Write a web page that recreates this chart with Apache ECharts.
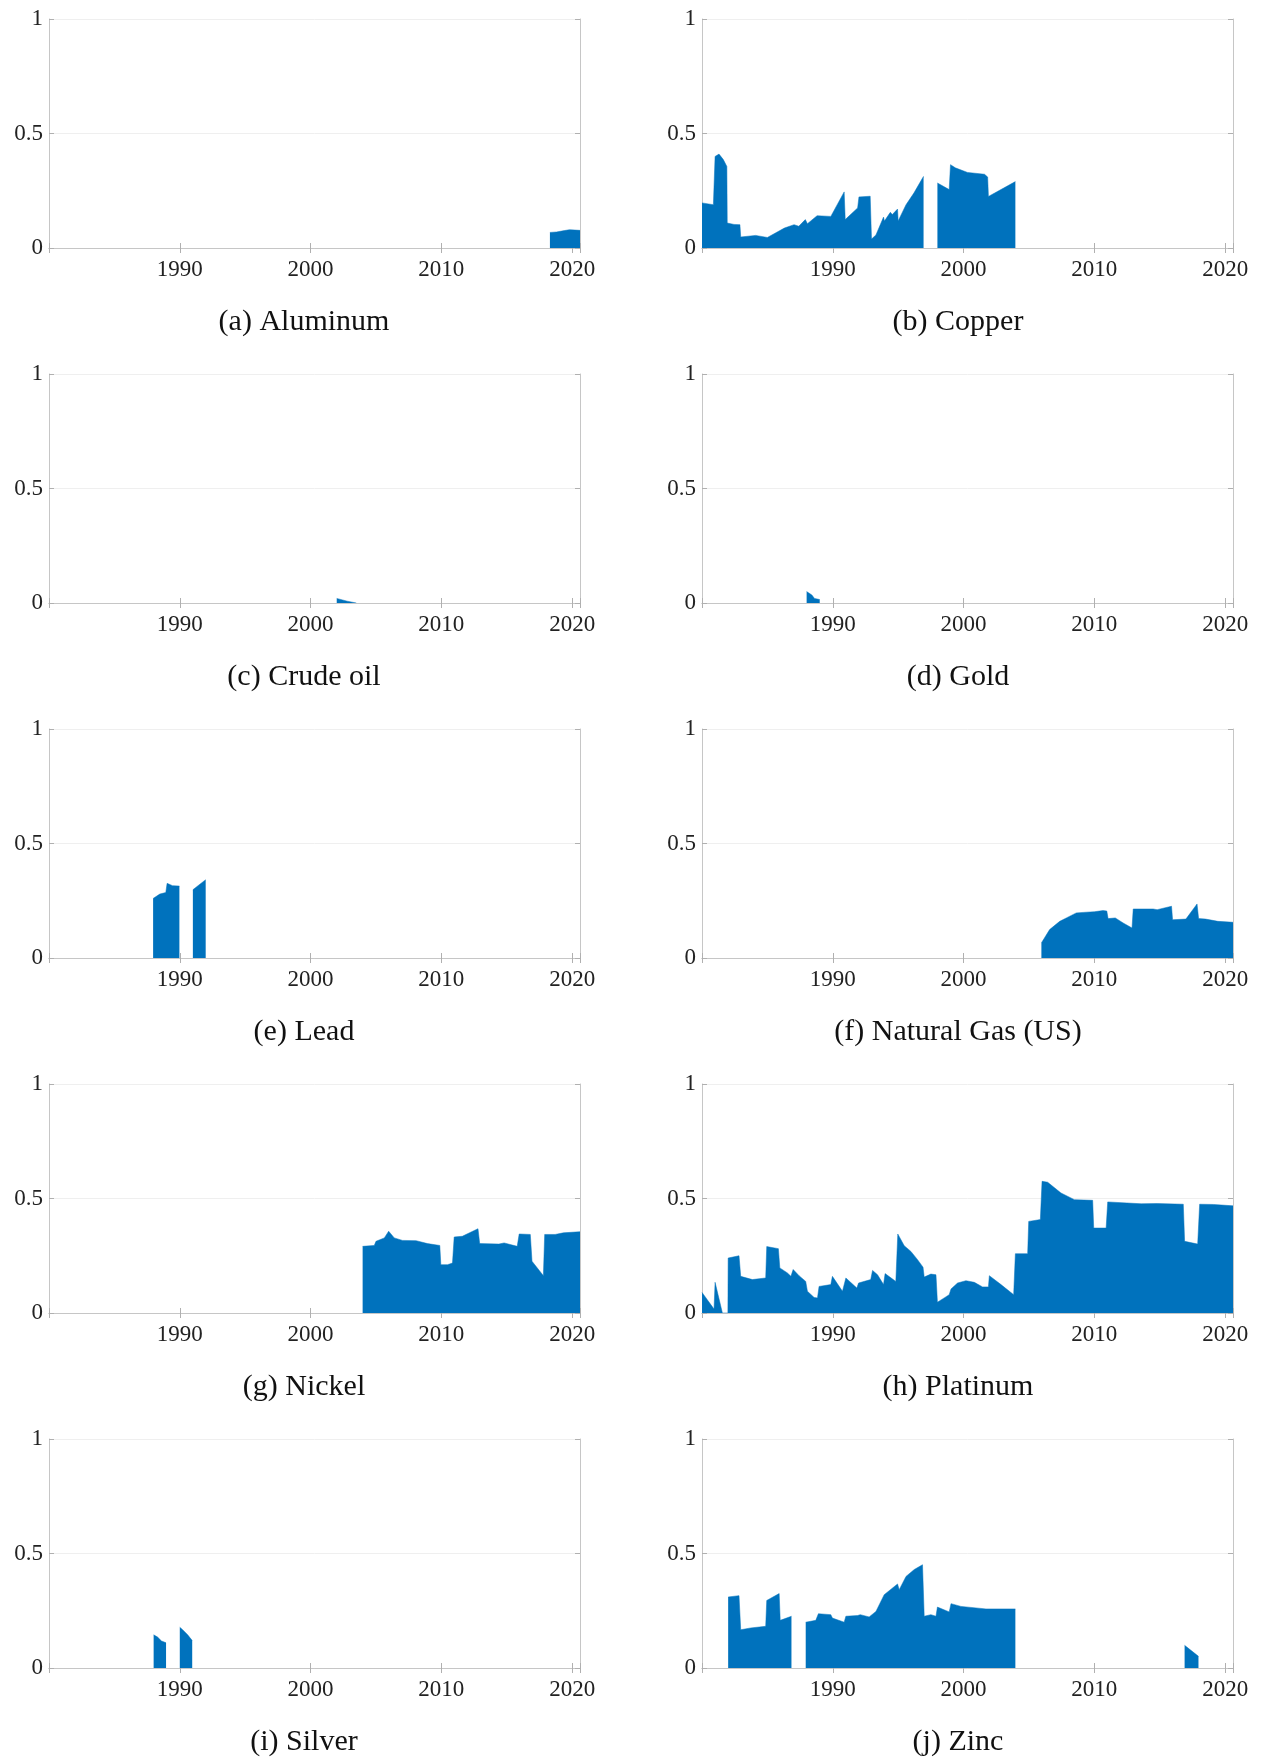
<!DOCTYPE html>
<html>
<head>
<meta charset="utf-8">
<title>Commodities</title>
<script src="https://cdn.jsdelivr.net/npm/echarts@6/dist/echarts.min.js"></script>
<style>
  html, body { margin: 0; padding: 0; background: #fff; }
  #main { width: 1266px; height: 1759px; }
</style>
</head>
<body>
<div id="main"></div>
<script>
// panel captions
var captions = ['(a) Aluminum', '(b) Copper', '(c) Crude oil', '(d) Gold', '(e) Lead',
                '(f) Natural Gas (US)', '(g) Nickel', '(h) Platinum', '(i) Silver', '(j) Zinc'];
var xTicks = [1990, 2000, 2010, 2020];
var yTicks = [0, 0.5, 1];

// [year, value]; a null value breaks the area
var aluminum = [[2018.3, 0.068], [2018.8, 0.07], [2019.4, 0.076], [2019.8, 0.08], [2020.6, 0.077]];

var copper = [[1980.0, 0.197], [1980.87, 0.189], [1981.0, 0.40], [1981.3, 0.41], [1981.63, 0.386],
  [1981.9, 0.356], [1981.93, 0.109], [1982.45, 0.103], [1982.9, 0.102], [1982.96, 0.048],
  [1984.1, 0.055], [1985.0, 0.046], [1986.3, 0.087], [1987.04, 0.102], [1987.4, 0.095],
  [1987.9, 0.124], [1988.06, 0.106], [1988.8, 0.141], [1989.85, 0.138], [1990.87, 0.245],
  [1990.95, 0.124], [1991.9, 0.175], [1992.0, 0.223], [1992.86, 0.226], [1992.96, 0.039],
  [1993.3, 0.057], [1993.88, 0.135], [1993.95, 0.118], [1994.4, 0.156], [1994.55, 0.146],
  [1994.95, 0.17], [1995.0, 0.118], [1995.6, 0.189], [1996.2, 0.24], [1996.94, 0.313],
  [1997.5, null],
  [1998.0, 0.284], [1998.9, 0.255], [1999.0, 0.364], [1999.37, 0.35], [2000.3, 0.33],
  [2001.6, 0.322], [2001.84, 0.31], [2001.9, 0.225], [2003.96, 0.29]];

var crudeOil = [[2002.0, 0.02], [2002.8, 0.008], [2003.5, 0.0]];

var gold = [[1988.0, 0.05], [1988.4, 0.035], [1988.6, 0.02], [1989.0, 0.015]];

var lead = [[1987.96, 0.26], [1988.47, 0.279], [1988.93, 0.286], [1989.03, 0.326], [1989.44, 0.316],
  [1989.97, 0.314], [1990.5, null], [1991.0, 0.298], [1991.98, 0.342]];

var naturalGas = [[2005.95, 0.066], [2006.58, 0.124], [2007.35, 0.16], [2007.86, 0.175], [2008.62, 0.197],
  [2009.39, 0.2], [2010.0, 0.202], [2010.66, 0.207], [2010.95, 0.205], [2011.05, 0.172],
  [2011.6, 0.175], [2012.2, 0.153], [2012.88, 0.131], [2012.97, 0.214], [2014.5, 0.214],
  [2014.8, 0.211], [2015.9, 0.226], [2015.98, 0.167], [2017.0, 0.17], [2017.85, 0.236],
  [2017.97, 0.172], [2018.5, 0.17], [2019.45, 0.16], [2020.6, 0.156]];

var nickel = [[2003.98, 0.291], [2004.87, 0.295], [2005.0, 0.313], [2005.64, 0.328], [2005.97, 0.357],
  [2006.4, 0.328], [2007.03, 0.317], [2008.06, 0.316], [2008.94, 0.303], [2009.88, 0.295],
  [2009.96, 0.211], [2010.47, 0.211], [2010.85, 0.218], [2010.98, 0.332], [2011.6, 0.335],
  [2012.8, 0.368], [2012.93, 0.303], [2014.4, 0.301], [2014.8, 0.306], [2015.8, 0.291],
  [2015.95, 0.345], [2016.8, 0.343], [2016.93, 0.226], [2017.8, 0.163], [2017.9, 0.343],
  [2018.7, 0.343], [2019.33, 0.35], [2020.6, 0.355]];

var platinum = [[1980.0, 0.09], [1980.92, 0.017], [1981.0, 0.134], [1981.56, 0.0], [1981.98, 0.0],
  [1982.0, 0.24], [1982.83, 0.25], [1982.96, 0.16], [1983.85, 0.146], [1984.87, 0.153],
  [1984.95, 0.29], [1985.84, 0.281], [1985.95, 0.197], [1986.53, 0.175], [1986.8, 0.16],
  [1986.97, 0.19], [1987.42, 0.163], [1987.93, 0.138], [1988.06, 0.095], [1988.57, 0.068],
  [1988.83, 0.066], [1988.95, 0.116], [1989.85, 0.124], [1989.97, 0.16], [1990.74, 0.095],
  [1991.0, 0.153], [1991.84, 0.109], [1991.97, 0.131], [1992.9, 0.146], [1993.04, 0.186],
  [1993.42, 0.167], [1993.88, 0.124], [1994.0, 0.172], [1994.82, 0.138], [1994.97, 0.345],
  [1995.46, 0.294], [1995.97, 0.269], [1996.48, 0.233], [1996.9, 0.2], [1996.99, 0.157],
  [1997.5, 0.17], [1997.89, 0.167], [1998.0, 0.047], [1998.52, 0.066], [1998.9, 0.08],
  [1999.04, 0.105], [1999.54, 0.131], [2000.18, 0.141], [2000.82, 0.134], [2001.45, 0.114],
  [2001.9, 0.114], [2001.97, 0.163], [2002.86, 0.124], [2003.83, 0.08], [2003.96, 0.259],
  [2004.9, 0.259], [2004.98, 0.40], [2005.87, 0.408], [2006.0, 0.575], [2006.43, 0.571],
  [2007.45, 0.524], [2008.47, 0.495], [2009.87, 0.492], [2009.95, 0.371], [2010.9, 0.371],
  [2011.02, 0.485], [2013.58, 0.477], [2014.8, 0.478], [2016.8, 0.475], [2016.9, 0.313],
  [2017.9, 0.301], [2018.05, 0.475], [2019.1, 0.474], [2020.6, 0.468]];

var silver = [[1988.0, 0.145], [1988.3, 0.135], [1988.6, 0.118], [1988.95, 0.11], [1989.5, null],
  [1990.0, 0.178], [1990.2, 0.168], [1990.6, 0.145], [1990.95, 0.12]];

var zinc = [[1982.0, 0.31], [1982.83, 0.316], [1982.96, 0.167], [1983.73, 0.175], [1984.87, 0.182],
  [1984.95, 0.295], [1985.9, 0.325], [1985.98, 0.208], [1986.84, 0.226], [1987.4, null],
  [1987.93, 0.2], [1988.7, 0.208], [1988.9, 0.237], [1989.85, 0.233], [1989.97, 0.218],
  [1990.87, 0.2], [1991.0, 0.226], [1991.9, 0.229], [1992.1, 0.233], [1992.78, 0.223],
  [1993.3, 0.247], [1993.93, 0.32], [1994.95, 0.367], [1995.08, 0.342], [1995.6, 0.4],
  [1996.23, 0.43], [1996.86, 0.451], [1996.99, 0.226], [1997.5, 0.233], [1997.89, 0.226],
  [1998.0, 0.266], [1998.9, 0.245], [1999.04, 0.281], [1999.8, 0.269], [2001.71, 0.258],
  [2003.96, 0.258], [2010.0, null], [2016.9, 0.099], [2017.96, 0.051]];

var panels = [aluminum, copper, crudeOil, gold, lead, naturalGas, nickel, platinum, silver, zinc];

var chart = echarts.init(document.getElementById('main'));

var font = 'Liberation Serif';
var boxColor = '#c6c6c6';
var rowTops = [19, 374, 729, 1084, 1439];
var colLefts = [49, 702];
var plotW = 531, plotH = 229;
var captionX = [304, 958];

var grids = [], xAxes = [], yAxes = [], series = [], texts = [];

panels.forEach(function (data, i) {
    var col = i % 2, row = Math.floor(i / 2);
    grids.push({ left: colLefts[col], top: rowTops[row], width: plotW, height: plotH });

    var xBase = {
        gridIndex: i, type: 'value', min: 1980, max: 2020.6, interval: 10,
        axisLine: { show: true, lineStyle: { color: boxColor, width: 1 } },
        axisTick: { show: true, inside: true, length: 5, lineStyle: { color: '#b0b0b0' } },
        splitLine: { show: false }
    };
    // bottom axis with labels
    xAxes.push(Object.assign({}, xBase, {
        position: 'bottom',
        axisLabel: {
            show: true, margin: 10, fontFamily: font, fontSize: 23, color: '#222',
            formatter: function (v) { return xTicks.indexOf(v) >= 0 ? String(v) : ''; }
        }
    }));
    // top edge of the box
    xAxes.push(Object.assign({}, xBase, { position: 'top', axisLabel: { show: false } }));

    var yBase = {
        gridIndex: i, type: 'value', min: 0, max: 1, interval: 0.5,
        axisLine: { show: true, lineStyle: { color: boxColor, width: 1 } },
        axisTick: { show: true, inside: true, length: 5, lineStyle: { color: '#b0b0b0' } }
    };
    yAxes.push(Object.assign({}, yBase, {
        position: 'left',
        splitLine: { show: true, lineStyle: { color: '#efefef', width: 1 } },
        axisLabel: {
            show: true, margin: 6, fontFamily: font, fontSize: 23, color: '#222',
            formatter: function (v) { return yTicks.indexOf(v) >= 0 ? String(v) : ''; }
        }
    }));
    yAxes.push(Object.assign({}, yBase, { position: 'right', splitLine: { show: false }, axisLabel: { show: false } }));

    series.push({
        type: 'line',
        xAxisIndex: i * 2,
        yAxisIndex: i * 2,
        data: data,
        showSymbol: false,
        symbol: 'none',
        connectNulls: false,
        lineStyle: { width: 0.5, color: '#0072BD' },
        areaStyle: { color: '#0072BD', opacity: 1 },
        silent: true,
        animation: false
    });

    texts.push({
        type: 'text',
        x: captionX[col],
        y: rowTops[row] + 303,
        style: {
            text: captions[i],
            fontFamily: font,
            fontSize: 30,
            fill: '#111',
            align: 'center',
            verticalAlign: 'middle'
        }
    });
});

chart.setOption({
    backgroundColor: '#fff',
    animation: false,
    grid: grids,
    xAxis: xAxes,
    yAxis: yAxes,
    series: series,
    graphic: texts
});
</script>
</body>
</html>
